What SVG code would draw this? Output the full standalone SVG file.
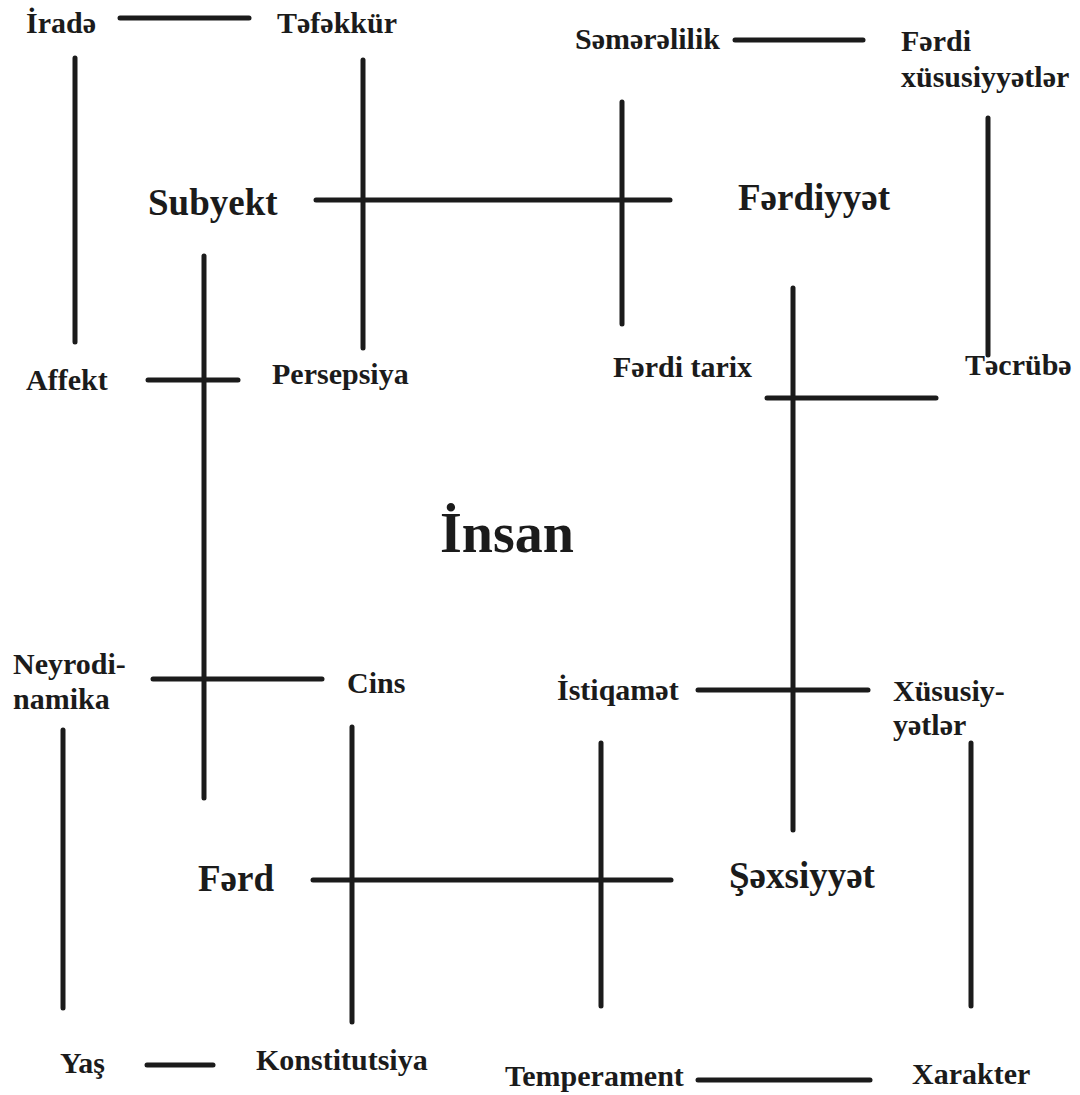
<svg xmlns="http://www.w3.org/2000/svg" width="1080" height="1095" viewBox="0 0 1080 1095">
<style>
text{font-family:"Liberation Serif","Times New Roman",serif;font-weight:bold;fill:#1b1b1b}
.s{font-size:30px}
.m{font-size:37px}
.l{font-size:56px}
line{stroke:#1b1b1b;stroke-width:5;stroke-linecap:round}
</style>
<rect width="1080" height="1095" fill="#fff"/>
<g id="connectors">
<line x1="120" y1="18" x2="249" y2="18"/>
<line x1="75" y1="58" x2="75" y2="342"/>
<line x1="363" y1="60" x2="363" y2="348"/>
<line x1="316" y1="200" x2="670" y2="200"/>
<line x1="622" y1="102" x2="622" y2="324"/>
<line x1="735" y1="40" x2="863" y2="40"/>
<line x1="988" y1="118" x2="988" y2="355"/>
<line x1="204" y1="256" x2="204" y2="798"/>
<line x1="148" y1="380" x2="238" y2="380"/>
<line x1="793" y1="288" x2="793" y2="830"/>
<line x1="767" y1="398" x2="936" y2="398"/>
<line x1="153" y1="679" x2="322" y2="679"/>
<line x1="63" y1="730" x2="63" y2="1008"/>
<line x1="352" y1="727" x2="352" y2="1022"/>
<line x1="313" y1="880" x2="671" y2="880"/>
<line x1="698" y1="690" x2="868" y2="690"/>
<line x1="601" y1="743" x2="601" y2="1006"/>
<line x1="971" y1="743" x2="971" y2="1006"/>
<line x1="147" y1="1065" x2="213" y2="1065"/>
<line x1="698" y1="1080" x2="870" y2="1080"/>
</g>
<g id="insan"><text class="l" x="440" y="552">İnsan</text></g>
<g id="subyekt"><text class="m" x="148" y="215">Subyekt</text></g>
<g id="ferdiyyet"><text class="m" x="738" y="210">Fərdiyyət</text></g>
<g id="ferd"><text class="m" x="198" y="891">Fərd</text></g>
<g id="sexsiyyet"><text class="m" x="729" y="888">Şəxsiyyət</text></g>
<g id="irade"><text class="s" x="26" y="33">İradə</text></g>
<g id="tefekkur"><text class="s" x="277" y="33">Təfəkkür</text></g>
<g id="affekt"><text class="s" x="26" y="390">Affekt</text></g>
<g id="persepsiya"><text class="s" x="272" y="384">Persepsiya</text></g>
<g id="semerelilik"><text class="s" x="575" y="49">Səmərəlilik</text></g>
<g id="ferdi-xususiyyetler"><text class="s" x="901" y="51">Fərdi</text><text class="s" x="901" y="87">xüsusiyyətlər</text></g>
<g id="ferdi-tarix"><text class="s" x="613" y="377">Fərdi tarix</text></g>
<g id="tecrube"><text class="s" x="965" y="375">Təcrübə</text></g>
<g id="neyrodinamika"><text class="s" x="13" y="674">Neyrodi-</text><text class="s" x="13" y="709">namika</text></g>
<g id="cins"><text class="s" x="347" y="693">Cins</text></g>
<g id="istiqamet"><text class="s" x="557" y="700">İstiqamət</text></g>
<g id="xususiyyetler"><text class="s" x="893" y="701">Xüsusiy-</text><text class="s" x="893" y="735">yətlər</text></g>
<g id="yas"><text class="s" x="60" y="1073">Yaş</text></g>
<g id="konstitutsiya"><text class="s" x="256" y="1070">Konstitutsiya</text></g>
<g id="temperament"><text class="s" x="505" y="1086">Temperament</text></g>
<g id="xarakter"><text class="s" x="912" y="1084">Xarakter</text></g>
</svg>
